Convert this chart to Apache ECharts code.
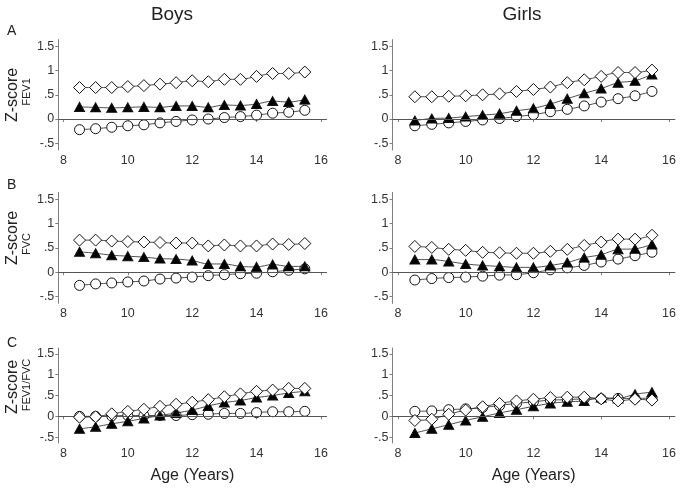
<!DOCTYPE html>
<html>
<head>
<meta charset="utf-8">
<script src="https://cdn.jsdelivr.net/npm/echarts@6/dist/echarts.min.js"></script>
<style>html,body{margin:0;padding:0;background:#fff}#c{width:683px;height:492px}</style>
</head>
<body>
<div id="c"></div>
<script>
var ages = [8.5, 9, 9.5, 10, 10.5, 11, 11.5, 12, 12.5, 13, 13.5, 14, 14.5, 15, 15.5];
var xTicks = [8, 10, 12, 14, 16];
var yTicks = [-0.5, 0, 0.5, 1, 1.5];
var columnTitles = ['Boys', 'Girls'];
var rowLetters = ['A', 'B', 'C'];
var rowMeasures = ['FEV1', 'FVC', 'FEV1/FVC'];

// Panel A: FEV1
var boysFev1Diamond  = [0.65, 0.65, 0.65, 0.67, 0.69, 0.72, 0.75, 0.79, 0.77, 0.82, 0.82, 0.88, 0.94, 0.94, 0.97];
var boysFev1Triangle = [0.25, 0.24, 0.23, 0.24, 0.25, 0.24, 0.27, 0.27, 0.24, 0.29, 0.28, 0.31, 0.37, 0.35, 0.40];
var boysFev1Circle   = [-0.22, -0.20, -0.17, -0.14, -0.12, -0.08, -0.05, -0.02, 0.00, 0.03, 0.05, 0.08, 0.12, 0.14, 0.18];
var girlsFev1Diamond  = [0.46, 0.46, 0.47, 0.48, 0.50, 0.52, 0.57, 0.61, 0.66, 0.75, 0.81, 0.88, 0.96, 0.96, 1.01];
var girlsFev1Triangle = [-0.03, 0.01, 0.02, 0.05, 0.08, 0.11, 0.17, 0.22, 0.31, 0.42, 0.53, 0.63, 0.75, 0.79, 0.92];
var girlsFev1Circle   = [-0.14, -0.11, -0.08, -0.05, -0.02, 0.01, 0.05, 0.09, 0.15, 0.20, 0.27, 0.35, 0.42, 0.48, 0.57];

// Panel B: FVC
var boysFvcDiamond  = [0.66, 0.66, 0.64, 0.63, 0.62, 0.61, 0.60, 0.60, 0.54, 0.56, 0.54, 0.54, 0.58, 0.57, 0.59];
var boysFvcTriangle = [0.42, 0.39, 0.35, 0.33, 0.31, 0.28, 0.27, 0.24, 0.17, 0.17, 0.12, 0.11, 0.16, 0.12, 0.12];
var boysFvcCircle   = [-0.27, -0.24, -0.22, -0.20, -0.18, -0.14, -0.12, -0.10, -0.07, -0.05, -0.03, -0.02, 0.01, 0.04, 0.07];
var girlsFvcDiamond  = [0.53, 0.51, 0.47, 0.45, 0.41, 0.40, 0.39, 0.39, 0.43, 0.47, 0.55, 0.62, 0.68, 0.68, 0.76];
var girlsFvcTriangle = [0.26, 0.26, 0.22, 0.17, 0.14, 0.12, 0.10, 0.10, 0.14, 0.20, 0.30, 0.36, 0.47, 0.48, 0.57];
var girlsFvcCircle   = [-0.16, -0.13, -0.11, -0.10, -0.08, -0.06, -0.05, -0.01, 0.05, 0.09, 0.14, 0.21, 0.27, 0.34, 0.41];

// Panel C: FEV1/FVC
var boysRatioDiamond  = [-0.02, -0.01, 0.06, 0.12, 0.17, 0.24, 0.29, 0.34, 0.40, 0.47, 0.54, 0.60, 0.63, 0.67, 0.67];
var boysRatioTriangle = [-0.30, -0.25, -0.18, -0.12, -0.05, 0.02, 0.08, 0.15, 0.25, 0.33, 0.38, 0.45, 0.50, 0.56, 0.60];
var boysRatioCircle   = [0.00, 0.00, 0.01, 0.02, 0.02, 0.02, 0.02, 0.04, 0.05, 0.07, 0.07, 0.09, 0.11, 0.11, 0.12];
var girlsRatioDiamond  = [-0.10, -0.07, 0.05, 0.15, 0.23, 0.31, 0.37, 0.41, 0.45, 0.46, 0.46, 0.42, 0.37, 0.41, 0.39];
var girlsRatioTriangle = [-0.40, -0.30, -0.20, -0.10, -0.01, 0.08, 0.16, 0.24, 0.31, 0.35, 0.37, 0.45, 0.43, 0.53, 0.58];
var girlsRatioCircle   = [0.12, 0.13, 0.16, 0.18, 0.21, 0.26, 0.31, 0.35, 0.39, 0.40, 0.42, 0.42, 0.43, 0.43, 0.44];

var panels = [
  [[boysFev1Diamond, boysFev1Triangle, boysFev1Circle], [girlsFev1Diamond, girlsFev1Triangle, girlsFev1Circle]],
  [[boysFvcDiamond, boysFvcTriangle, boysFvcCircle], [girlsFvcDiamond, girlsFvcTriangle, girlsFvcCircle]],
  [[boysRatioDiamond, boysRatioTriangle, boysRatioCircle], [girlsRatioDiamond, girlsRatioTriangle, girlsRatioCircle]]
];

var rowGeom = [{top: 39.6, height: 110.4}, {top: 192.4, height: 111}, {top: 348, height: 95}];
var colGeom = [{left: 58.3, width: 268.4}, {left: 392.5, width: 282.5}];
var AXIS = '#808080', TXT = '#333';
var FONT = '"Liberation Sans", Arial, sans-serif';

function fmtY(v) {
  if (v === 0) return '0';
  var s = String(Math.abs(v)).replace(/^0/, '');
  return (v < 0 ? '-' : '') + s;
}

var grids = [], xAxes = [], yAxes = [], series = [];
var idx = 0;
for (var r = 0; r < 3; r++) {
  for (var c = 0; c < 2; c++) {
    grids.push({left: colGeom[c].left, width: colGeom[c].width, top: rowGeom[r].top, height: rowGeom[r].height, containLabel: false});
    xAxes.push({
      type: 'value', gridIndex: idx, min: 7.84, max: 16.18,
      axisLine: {show: true, lineStyle: {color: AXIS, width: 1}},
      axisTick: {show: true, length: 3, inside: false, customValues: xTicks, lineStyle: {color: AXIS}},
      axisLabel: {customValues: xTicks, color: TXT, fontSize: 12.5, fontFamily: FONT, margin: 4},
      splitLine: {show: false}
    });
    yAxes.push({
      type: 'value', gridIndex: idx, min: -0.64, max: 1.64,
      axisLine: {show: true, onZero: false, lineStyle: {color: AXIS, width: 1}},
      axisTick: {show: true, length: 3, customValues: yTicks, lineStyle: {color: AXIS}},
      axisLabel: {customValues: yTicks, color: TXT, fontSize: 12.5, fontFamily: FONT, margin: 4, formatter: fmtY},
      splitLine: {show: false}
    });
    var sets = panels[r][c];
    var styles = [
      {symbol: 'diamond', size: [12, 12], fill: '#fff'},
      {symbol: 'triangle', size: [10, 9], fill: '#000'},
      {symbol: 'circle', size: 10, fill: '#fff'}
    ];
    for (var s = 0; s < 3; s++) {
      var d = ages.map(function (a, i) { return [a, sets[s][i]]; });
      var ser = {
        type: 'line', xAxisIndex: idx, yAxisIndex: idx, data: d,
        symbol: styles[s].symbol, symbolSize: styles[s].size, showAllSymbol: true,
        smooth: 0.3,
        lineStyle: {color: '#222', width: 0.8},
        itemStyle: {color: styles[s].fill, borderColor: '#111', borderWidth: 1},
        emphasis: {disabled: true}, animation: false, z: 3 - s + 2
      };
      if (s === 0) {
        ser.markLine = {
          silent: true, symbol: ['none', 'none'], label: {show: false},
          lineStyle: {color: '#555', width: 1.2, type: 'solid'},
          data: [{yAxis: 0}], animation: false
        };
      }
      series.push(ser);
    }
    idx++;
  }
}

var graphics = [];
var colCenters = [172, 522];
columnTitles.forEach(function (t, c) {
  graphics.push({type: 'text', x: colCenters[c], y: 15, style: {text: t, fill: '#222', font: '19px ' + FONT, textAlign: 'center', textVerticalAlign: 'middle'}});
});
var letterY = [31, 185, 343];
var zY = [95, 238, 387];
var mY = [92, 244, 385];
for (var r2 = 0; r2 < 3; r2++) {
  graphics.push({type: 'text', x: 7, y: letterY[r2], style: {text: rowLetters[r2], fill: '#222', font: '14px ' + FONT, textVerticalAlign: 'middle'}});
  graphics.push({type: 'text', x: 13, y: zY[r2], rotation: Math.PI / 2, style: {text: 'Z-score', fill: '#222', font: '16px ' + FONT, textAlign: 'center', textVerticalAlign: 'middle'}});
  graphics.push({type: 'text', x: 27, y: mY[r2], rotation: Math.PI / 2, style: {text: rowMeasures[r2], fill: '#222', font: '11px ' + FONT, textAlign: 'center', textVerticalAlign: 'middle'}});
}
graphics.push({type: 'text', x: 192.5, y: 476, style: {text: 'Age (Years)', fill: '#222', font: '16px ' + FONT, textAlign: 'center', textVerticalAlign: 'middle'}});
graphics.push({type: 'text', x: 533.7, y: 476, style: {text: 'Age (Years)', fill: '#222', font: '16px ' + FONT, textAlign: 'center', textVerticalAlign: 'middle'}});

var chart = echarts.init(document.getElementById('c'), null, {renderer: 'canvas'});
chart.setOption({
  animation: false,
  backgroundColor: '#fff',
  grid: grids, xAxis: xAxes, yAxis: yAxes, series: series,
  graphic: graphics
});
</script>
</body>
</html>
